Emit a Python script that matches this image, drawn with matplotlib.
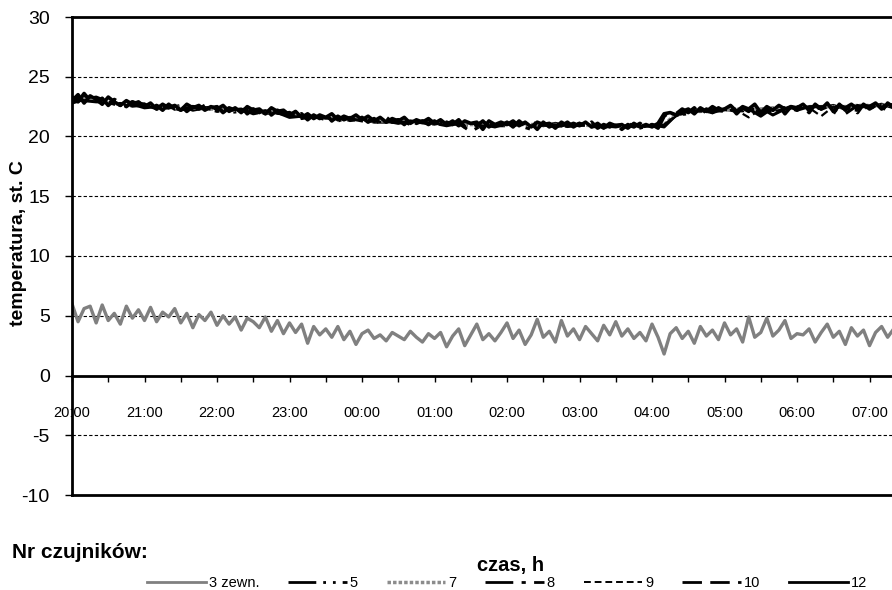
import numpy as np
import matplotlib
matplotlib.use("Agg")
import matplotlib.pyplot as plt

plt.rcParams['font.family'] = ['Liberation Sans', 'DejaVu Sans']
plt.rcParams['axes.unicode_minus'] = False

# hour labels on the time axis (start 20:00)
hour_labels = ["20:00", "21:00", "22:00", "23:00", "00:00", "01:00",
               "02:00", "03:00", "04:00", "05:00", "06:00", "07:00"]

# sensor 3 (outside), read every 5 min
temp_3 = [6.0, 4.5, 5.6, 5.8, 4.4, 5.9, 4.6,
          5.2, 4.3, 5.8, 4.8, 5.5, 4.6,
          5.7, 4.5, 5.3, 4.9, 5.6, 4.4,
          5.2, 4.0, 5.1, 4.6, 5.3, 4.2,
          5.0, 4.3, 4.9, 3.8, 4.8, 4.5,
          4.0, 4.9, 3.7, 4.6, 3.5, 4.4,
          3.6, 4.3, 2.7, 4.1, 3.4, 3.9,
          3.2, 4.1, 3.0, 3.7, 2.6, 3.5,
          3.8, 3.1, 3.4, 2.9, 3.6, 3.3,
          3.0, 3.7, 3.2, 2.8, 3.5, 3.1,
          3.6, 2.4, 3.3, 3.9, 2.5, 3.4,
          4.3, 3.0, 3.5, 2.9, 3.6, 4.4,
          3.1, 3.8, 2.6, 3.4, 4.7, 3.2,
          3.7, 2.8, 4.6, 3.3, 3.9, 3.0,
          4.1, 3.5, 2.9, 4.2, 3.4, 4.5,
          3.3, 3.9, 3.1, 3.6, 2.9, 4.3,
          3.2, 1.8, 3.5, 4.0, 3.1, 3.7,
          2.7, 4.1, 3.3, 3.8, 3.0, 4.4,
          3.4, 3.9, 2.8, 4.9, 3.2, 3.6,
          4.8, 3.3, 3.8, 4.6, 3.1, 3.5,
          3.4, 3.9, 2.8, 3.6, 4.3, 3.2,
          3.7, 2.6, 4.0, 3.3, 3.8, 2.5,
          3.6, 4.1, 3.2, 3.9]

# indoor sensors 12 and 10, read every 5 min
temp_12 = [23.0, 23.5, 22.8, 23.4, 23.1, 22.7, 23.3, 22.9, 22.6, 23.0, 22.7, 22.9,
           22.5, 22.8, 22.3, 22.7, 22.4, 22.6, 22.2, 22.7, 22.4, 22.6, 22.2, 22.5,
           22.3, 22.6, 22.1, 22.4, 22.0, 22.5, 22.2, 22.3, 21.9, 22.4, 22.1, 22.2,
           21.8, 22.1, 21.6, 21.9, 21.5, 21.8, 21.6, 21.9, 21.4, 21.7, 21.5, 21.8,
           21.4, 21.7, 21.3, 21.6, 21.2, 21.5, 21.3, 21.6, 21.1, 21.4, 21.2, 21.5,
           21.1, 21.4, 21.0, 21.3, 20.9, 21.3, 21.1, 21.2, 20.6, 21.3, 21.0, 21.2,
           21.0, 21.3, 20.9, 21.2, 20.8, 21.2, 21.0, 21.1, 20.7, 21.2, 20.9, 21.1,
           20.9, 21.2, 20.8, 21.1, 20.7, 21.1, 20.9, 21.0, 20.7, 21.1, 20.8, 21.0,
           20.8, 21.1, 21.9, 22.0, 21.8, 22.1, 22.3, 21.9, 22.4, 22.1, 22.5, 22.2,
           22.3, 22.6, 22.1, 22.5, 22.3, 22.7, 22.0, 22.5, 22.2, 22.6, 22.3, 22.5,
           22.4, 22.7, 22.2, 22.6, 22.3, 22.8, 22.1, 22.6, 22.4, 22.7, 22.3, 22.6,
           22.5, 22.8, 22.3, 22.7, 22.6]
temp_10 = [23.3, 22.9, 23.6, 23.0, 22.8, 23.2, 22.6, 23.1, 22.8, 22.5, 22.9, 22.6,
           22.7, 22.3, 22.6, 22.2, 22.7, 22.3, 22.6, 22.1, 22.5, 22.3, 22.6, 22.2,
           22.5, 22.0, 22.4, 22.2, 22.5, 21.9, 22.3, 22.0, 22.4, 21.8, 22.2, 21.9,
           22.0, 21.7, 21.9, 21.4, 21.8, 21.5, 21.9, 21.3, 21.7, 21.4, 21.6, 21.3,
           21.6, 21.2, 21.5, 21.1, 21.6, 21.2, 21.4, 21.0, 21.5, 21.1, 21.3, 21.0,
           21.3, 20.9, 21.2, 21.0, 21.4, 20.8, 21.2, 20.9, 21.3, 20.8, 21.1, 20.9,
           21.2, 20.8, 21.3, 20.9, 21.1, 20.6, 21.2, 20.8, 21.1, 20.9, 21.2, 20.8,
           21.1, 20.8, 21.2, 20.7, 21.0, 20.8, 21.1, 20.6, 21.0, 20.8, 21.1, 20.7,
           21.0, 20.7, 21.7, 22.1, 21.9, 22.3, 22.0, 22.4, 21.8, 22.3, 22.0, 22.4,
           22.1, 22.5, 21.9, 22.4, 22.1, 22.6, 21.8, 22.4, 22.2, 22.6, 21.9, 22.5,
           22.2, 22.6, 22.0, 22.7, 22.3, 22.5, 21.9, 22.7, 22.2, 22.6, 22.0, 22.7,
           22.3, 22.6, 22.1, 22.8, 22.4]

# indoor sensors 5, 7, 8, 9, read every 10 min
temp_5 = [22.8, 23.1, 23.3, 22.9, 22.6, 22.9,
          22.7, 22.3, 22.4, 22.6, 22.2, 22.4,
          22.5, 22.0, 22.1, 22.3, 21.9, 22.1,
          21.9, 21.5, 21.7, 21.6, 21.3, 21.6,
          21.5, 21.2, 21.2, 21.4, 21.0, 21.3,
          21.2, 21.0, 21.1, 20.9, 21.2, 20.9,
          20.9, 21.0, 21.2, 20.9, 21.1, 20.9,
          21.0, 21.0, 20.8, 20.9, 21.1, 20.7,
          21.0, 20.8, 21.8, 21.9, 22.2, 22.0,
          22.3, 22.1, 22.2, 22.4, 21.8, 22.3,
          22.5, 22.2, 22.4, 22.6, 22.3, 22.2,
          22.5, 22.7, 22.4]
temp_7 = [23.1, 23.2, 23.0, 22.8, 22.7, 22.8,
          22.6, 22.5, 22.6, 22.4, 22.4, 22.3,
          22.3, 22.2, 22.2, 22.1, 22.0, 22.0,
          21.8, 21.7, 21.6, 21.6, 21.5, 21.5,
          21.4, 21.3, 21.3, 21.2, 21.2, 21.2,
          21.1, 21.1, 21.0, 21.0, 21.0, 21.0,
          21.0, 21.0, 21.0, 21.0, 21.0, 20.9,
          21.0, 20.9, 20.9, 20.9, 20.9, 20.9,
          20.9, 21.0, 21.9, 22.1, 22.1, 22.2,
          22.2, 22.3, 22.3, 22.3, 22.4, 22.4,
          22.4, 22.5, 22.5, 22.5, 22.5, 22.6,
          22.6, 22.6, 22.7]
temp_8 = [23.3, 23.0, 22.9, 22.9, 22.5, 22.7,
          22.4, 22.5, 22.5, 22.2, 22.5, 22.4,
          22.1, 22.2, 22.3, 21.9, 22.1, 22.0,
          21.6, 21.7, 21.7, 21.4, 21.5, 21.5,
          21.3, 21.3, 21.3, 21.1, 21.3, 21.2,
          21.1, 20.9, 21.1, 20.4, 21.0, 20.8,
          21.1, 20.9, 20.6, 21.0, 20.8, 21.0,
          21.1, 20.8, 20.9, 20.8, 21.0, 20.8,
          20.9, 20.9, 21.8, 22.0, 22.2, 22.2,
          22.1, 22.3, 22.3, 21.7, 22.4, 22.4,
          22.2, 22.5, 22.5, 22.3, 21.9, 22.6,
          22.4, 22.6, 22.5]
temp_9 = [23.0, 23.4, 23.1, 22.7, 22.8, 22.5,
          22.6, 22.6, 22.4, 22.3, 22.5, 22.3,
          22.2, 22.3, 22.1, 22.0, 22.2, 21.9,
          21.8, 21.8, 21.6, 21.5, 21.6, 21.3,
          21.4, 21.4, 21.2, 21.2, 21.3, 21.1,
          21.0, 21.2, 21.0, 21.1, 20.9, 20.9,
          21.0, 21.1, 20.9, 21.1, 21.0, 20.8,
          20.9, 20.9, 20.7, 21.0, 20.9, 20.8,
          20.9, 21.0, 21.7, 22.1, 22.1, 22.1,
          22.2, 22.2, 21.6, 22.3, 22.1, 22.3,
          22.4, 22.4, 21.7, 22.5, 22.3, 22.4,
          22.6, 22.5, 22.7]

t_out = np.arange(len(temp_3)) * 5 / 60.0
t_fine = np.arange(len(temp_12)) * 5 / 60.0
t_in = np.arange(len(temp_5)) * 10 / 60.0

fig = plt.figure(figsize=(8.92, 5.90), dpi=100)
ax = fig.add_axes([72 / 892, 1 - 495 / 590, 1 - 72 / 892, (495 - 17) / 590])

ax.plot(t_out, temp_3, color='#808080', lw=2.4, label='3 zewn.')
ax.plot(t_in, temp_5, color='black', lw=2.2, ls=(0, (10, 2.5, 1, 2.5, 1, 2.5)), label='5')
ax.plot(t_in, temp_7, color='#8c8c8c', lw=2.5, ls=(0, (1, 0.6)), label='7')
ax.plot(t_in, temp_8, color='black', lw=2.2, ls=(0, (10, 3, 1.5, 3)), label='8')
ax.plot(t_in, temp_9, color='black', lw=1.6, ls=(0, (3.5, 2)), label='9')
ax.plot(t_fine, temp_10, color='black', lw=2.6, ls=(0, (7, 3)), label='10')
ax.plot(t_fine, temp_12, color='black', lw=2.6, label='12')

for y in [25, 20, 15, 10, 5, -5]:
    ax.axhline(y, color='black', lw=0.8, ls=(0, (3, 2)), zorder=0)
ax.axhline(-10, color='black', lw=2, clip_on=False)

ax.set_xlim(0, 11.31)
ax.set_ylim(-10, 30)
ax.set_yticks(range(-10, 31, 5))
ax.set_xticks(range(len(hour_labels)))
ax.set_xticklabels(hour_labels)
ax.set_xticks(np.arange(0.5, 11.5, 1), minor=True)

ax.spines['bottom'].set_position(('data', 0))
for side in ['left', 'top', 'bottom']:
    ax.spines[side].set_linewidth(2)
ax.spines['right'].set_visible(False)

ax.tick_params(axis='y', length=5, width=1, pad=11, labelsize=14)
ax.tick_params(axis='x', which='both', direction='out', length=4, width=1)
ax.tick_params(axis='x', which='major', pad=18, labelsize=10.5)

fig.text(19 / 892, 1 - 243 / 590, 'temperatura, st. C', rotation=90,
         ha='center', va='center', fontsize=14, fontweight='bold')
fig.text(511 / 892, 1 - 565 / 590, 'czas, h', ha='center', va='center',
         fontsize=14.5, fontweight='bold')
fig.text(12 / 892, 1 - 552 / 590, 'Nr czujników:', ha='left', va='center',
         fontsize=15, fontweight='bold')

leg = fig.legend(loc='center', bbox_to_anchor=(507 / 892, 1 - 583 / 590), ncol=7,
                 frameon=False, fontsize=10.5, handlelength=4.0, handletextpad=0.2,
                 columnspacing=2.0, borderpad=0)
for line, lw in zip(leg.get_lines(), [2, 2, 2.5, 2, 1.4, 2, 2]):
    line.set_linewidth(lw)

fig.savefig('out.png', dpi=100)
